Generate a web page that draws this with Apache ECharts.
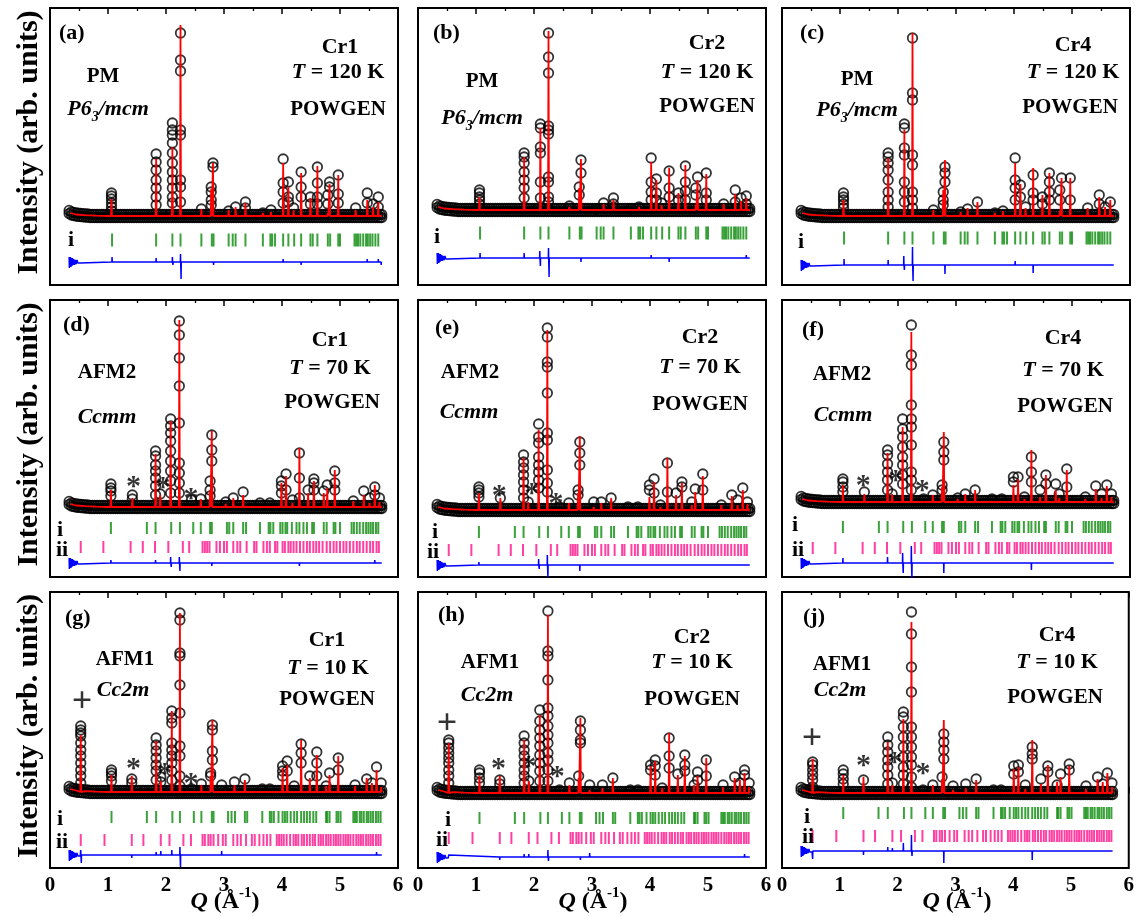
<!DOCTYPE html>
<html><head><meta charset="utf-8">
<script src="https://cdn.jsdelivr.net/npm/echarts@6/dist/echarts.min.js"></script>
<style>html,body{margin:0;padding:0;background:#fff}#c{width:1137px;height:917px}</style>
</head><body><div id="c"></div>
<script>
// ---------------- DATA (intensities in arb. units above background) ----------------
const X_TICK_LABELS = ['0','1','2','3','4','5','6'];
const PANEL_TAGS = ['(a)','(b)','(c)','(d)','(e)','(f)','(g)','(h)','(j)'];
const SAMPLES = ['Cr1','Cr2','Cr4','Cr1','Cr2','Cr4','Cr1','Cr2','Cr4'];
const TEMPS = ['120 K','120 K','120 K','70 K','70 K','70 K','10 K','10 K','10 K'];
const PHASES = ['PM','AFM2','AFM1'];
const GROUPS = ['{gi|P6}{sub|3}{gi|/mcm}','{gi|Ccmm}','{gi|Cc2m}'];
const INSTRUMENT = 'POWGEN';
const PHASE_ROWS = ['i','ii'];
const Y_TITLE = 'Intensity (arb. units)';
const X_TITLE = '{q|Q}{n| (Å}{sup|-1}{n|)}';

// background observations: Q grid, low-Q background level and the scatter of points about it
const BG_Q = [0.33,0.37,0.41,0.45,0.49,0.53,0.57,0.61,0.65,0.69,0.73,0.77,0.81,0.85,0.89,0.93,0.97,1.01,1.05,1.09,1.13,1.17,1.21,1.25,1.29,1.33,1.37,1.41,1.45,1.49,1.53,1.57,1.61,1.65,1.69,1.73,1.77,1.81,1.85,1.89,1.93,1.97,2.01,2.05,2.09,2.13,2.17,2.21,2.25,2.29,2.33,2.37,2.41,2.45,2.49,2.53,2.57,2.61,2.65,2.69,2.73,2.77,2.81,2.85,2.89,2.93,2.97,3.01,3.05,3.09,3.13,3.17,3.21,3.25,3.29,3.33,3.37,3.41,3.45,3.49,3.53,3.57,3.61,3.65,3.69,3.73,3.77,3.81,3.85,3.89,3.93,3.97,4.01,4.05,4.09,4.13,4.17,4.21,4.25,4.29,4.33,4.37,4.41,4.45,4.49,4.53,4.57,4.61,4.65,4.69,4.73,4.77,4.81,4.85,4.89,4.93,4.97,5.01,5.05,5.09,5.13,5.17,5.21,5.25,5.29,5.33,5.37,5.41,5.45,5.49,5.53,5.57,5.61,5.65,5.69,5.72];
const BG_LEVEL = [4,2.5,2,1.5,1.2,1,0.8,0.6,0.4];
const BG_SPREAD = [1.6,-1.6];
const CALC_BG = [[0.35,3],[0.45,1.5],[0.6,0.8],[0.8,0.3],[1.0,0],[5.72,0]];
const DIFF_START = [[0.33,5],[0.334,-6],[0.339,5],[0.345,-5],[0.352,5],[0.36,-5],[0.368,4],[0.377,-4],[0.387,4],[0.398,-3],[0.41,3],[0.422,-3],[0.435,2],[0.45,-2],[0.465,2],[0.48,-1],[0.50,1],[0.52,-1],[0.54,0]];

// Row 1 (PM, P6_3/mcm, 120 K)
const R1_PEAK_Q = [1.06,1.83,2.11,2.25,2.61,2.78,2.81,3.08,3.20,3.37,3.67,3.81,4.02,4.11,4.20,4.33,4.49,4.61,4.79,4.82,4.97,5.27,5.47,5.57,5.66];
const CALC_A = [17,57,69,191,7,27,53,6,9,13,3,4,53,29,6,43,18,50,3,32,41,6,16,9,14];
const CALC_B = [13,53,82,179,3,22,51,1,6,10,1,3,48,30,5,42,17,45,5,30,36,6,16,9,12];
const CALC_C = [16,58,86,183,6,26,56,4,8,14,3,5,53,32,8,48,21,43,5,38,38,8,19,9,16];
const OBS_A = [[23,20,17,13,9,5],[62,54,46,36,28,19,11],[93,86,81,73,63,53,44,36,28,19,13],[183,156,145,86,81,36,29,14],[7],[29,24,16,11],[53,49],[5],[9],[14,8],[3],[6],[57,33,24,13],[34,19,14],[8],[44,29,19],[19,12],[49,33,19,12],[21,12],[34,29],[41,22,13],[8],[23,13],[12],[19,9]];
const OBS_B = [[20,17,13,10,6],[57,53,47,38,30,22,12],[86,82,63,57,28,12],[177,153,137,84,80,76,33,28,13,8],[4],[23,15],[50,37],[1],[7],[12,6],[1],[3],[52,28,18,10],[31,17,10],[7],[39,22,13],[17,10],[44,28,19,10],[22,15],[33],[37,17,10],[6],[20,8],[12],[14,6]];
const OBS_C = [[23,19,16,12,8],[63,59,53,46,36,24,16,9],[92,88,68,61,34,24,14],[178,123,116,61,51,24,16,8],[6],[24,16,11],[49,43,34],[4],[7],[14],[3],[5],[58,36,28,16],[31,19],[9],[41,23,16],[19,12],[43,34,24,16],[26,16],[38],[38,16],[8],[21,12],[9],[14]];
const R1_TICKS_I = [1.07,1.83,2.11,2.25,2.61,2.79,2.82,3.08,3.15,3.20,3.37,3.67,3.80,3.83,3.88,4.02,4.11,4.21,4.33,4.49,4.53,4.61,4.79,4.83,4.97,5.00,5.25,5.28,5.31,5.35,5.40,5.45,5.48,5.52,5.56,5.61,5.66];
const DIFF_A = [[1.07,5],[1.83,4],[2.11,5],[2.12,-3],[2.25,8],[2.26,-17],[2.82,-3],[4.02,3],[4.33,-3],[4.82,2],[5.47,3],[5.66,3],[5.71,-3]];
const DIFF_B = [[1.07,5],[1.83,5],[2.10,7],[2.11,-8],[2.25,10],[2.26,-19],[2.81,-4],[4.02,3],[4.33,-4],[4.61,2],[4.79,2],[5.66,3]];
const DIFF_C = [[1.07,6],[1.83,5],[2.10,9],[2.11,-5],[2.25,18],[2.26,-16],[2.81,-9],[4.02,4],[4.33,-8],[4.61,2],[5.66,2]];

// Row 2 (AFM2, Ccmm, 70 K)
const R2_PEAK_Q = [1.05,1.42,1.82,1.90,2.08,2.23,2.44,2.60,2.76,2.79,3.03,3.16,3.33,3.62,3.79,3.99,4.07,4.18,4.30,4.45,4.55,4.72,4.78,4.91,5.23,5.41,5.51,5.60,5.68];
const CALC_D = [17,9,53,12,86,187,2,8,17,76,3,9,12,2,2,24,31,4,59,14,26,14,19,37,6,12,4,22,5];
const CALC_E = [17,12,52,8,80,180,2,7,17,74,3,7,12,1,1,13,28,3,52,15,27,5,18,34,5,14,5,20,6];
const CALC_F = [17,8,49,8,75,170,2,7,15,70,3,8,12,1,1,17,23,3,52,5,27,12,4,32,3,13,4,16,5];
const OBS_D = [[23,19,16,11],[12,8],[56,51,42,36,29,21,12],[13],[88,81,74,66,56,46,36,26,14],[186,172,149,121,84,44,34,24,14],[7],[8],[26,17,11],[72,57,46],[5],[9],[15],[4],[4],[26,21,14],[33,17],[7],[54,29,9],[17],[28,24,17],[16],[22],[36,24,17],[6],[16],[9],[20,12],[9]];
const OBS_E = [[23,20,17,13],[12],[55,48,42,35,28,20,12],[8],[86,73,67,53,45,38,30,22],[182,173,148,143,117,77,70,40,27,18],[3],[7],[20,15],[68,57,45],[8],[8],[12],[3],[3],[25,20],[31,17],[5],[47,18],[17],[28,23],[8],[21],[36,20],[5],[15],[10],[22],[8]];
const OBS_F = [[23,20,15,10],[10],[52,47,38,30,22,12],[8],[83,73,65,55,45,37,27,18],[177,147,137,97,83,75,57,30,22,12],[3],[7],[17,12],[60,50,42],[4],[8],[12],[3],[3],[25,20],[25],[5],[45,30,20],[12],[27,18],[18],[8],[33,15],[5],[16],[8],[17],[8]];
const R2_TICKS_I = [1.05,1.67,1.82,2.09,2.24,2.47,2.60,2.76,2.79,3.05,3.09,3.16,3.33,3.38,3.62,3.77,3.80,3.85,3.97,4.01,4.06,4.09,4.17,4.25,4.30,4.37,4.43,4.52,4.55,4.72,4.77,4.89,4.92,5.00,5.20,5.24,5.29,5.34,5.40,5.45,5.49,5.53,5.57,5.62,5.66];
const R2_TICKS_II = [0.53,0.92,1.39,1.60,1.81,2.04,2.29,2.40,2.63,2.67,2.71,2.75,2.87,2.93,3.00,3.05,3.16,3.23,3.28,3.39,3.52,3.56,3.68,3.74,3.79,3.88,3.92,4.01,4.05,4.11,4.15,4.20,4.25,4.31,4.37,4.43,4.48,4.54,4.59,4.64,4.70,4.77,4.83,4.89,4.94,5.00,5.06,5.11,5.17,5.23,5.29,5.34,5.40,5.46,5.52,5.57,5.63,5.67];
const DIFF_D = [[1.05,3],[1.82,3],[1.90,2],[2.08,6],[2.09,-4],[2.23,6],[2.24,-8],[2.79,-3],[3.99,1],[4.30,-3],[5.60,3]];
const DIFF_E = [[1.05,3],[1.90,2],[2.08,6],[2.09,-4],[2.23,10],[2.24,-12],[2.79,-6],[3.99,2],[4.07,-2],[4.30,2],[4.55,1],[5.60,-2]];
const DIFF_F = [[1.05,5],[1.82,6],[2.08,10],[2.09,-10],[2.23,17],[2.24,-15],[2.79,-10],[4.07,2],[4.30,-7]];
const STARS_D = [[1.44,26],[1.95,25],[2.43,14]];
const STARS_E = [[1.40,20],[1.96,22],[2.38,12]];
const STARS_F = [[1.40,22],[1.96,27],[2.42,17]];

// Row 3 (AFM1, Cc2m, 10 K)
const R3_PEAK_Q = [0.53,1.06,1.41,1.83,1.91,2.10,2.24,2.44,2.61,2.77,2.80,2.96,3.18,3.36,3.66,3.79,4.01,4.09,4.21,4.33,4.48,4.60,4.76,4.82,4.97,5.26,5.46,5.55,5.63,5.71];
const CALC_G = [57,17,16,51,11,81,179,2,7,16,72,2,7,12,1,1,24,27,2,52,14,37,6,17,36,6,14,9,22,5];
const CALC_H = [50,17,17,53,12,78,178,2,8,15,75,3,5,15,1,1,27,32,5,60,18,37,8,17,35,6,15,13,20,6];
const CALC_J = [34,18,16,51,8,74,171,2,8,14,73,3,5,13,1,1,24,26,4,53,9,28,11,16,27,4,14,11,20,6];
const OBS_G = [[66,62,59,56,49,42,36,29,22,16,9],[22,19,16,11],[13,9],[54,47,41,34,27,21,12],[15,10],[81,74,69,49,42,36,29,21,12],[179,172,139,136,107,79,46,36,16,6],[3],[8],[19,16],[67,62,41,32],[7],[10],[13],[3],[3],[26,21,16],[31,21],[6],[48,39,29],[16],[40,29,16],[6],[19],[34,22],[7],[13],[9],[25],[9]];
const OBS_H = [[53,50,45,40,35,30,23,17,10],[23,20,15,10],[13,9],[57,50,43,37,30,23,17,10],[12],[83,72,63,55,47,38,30,22,12],[182,142,137,113,85,77,67,58,50,40,33,23,12],[3],[10],[17],[72,63,53,50],[8],[8],[15],[3],[3],[28,23],[33,27,18],[5],[55,37,25],[19],[38,28,22],[8],[21,13],[33,17],[8],[16],[10],[23,18],[10]];
const OBS_J = [[31,28,23,18,13,6],[23,19,14,9],[13],[56,48,41,33,26,18,9],[10],[81,76,66,56,46,36,26,18,9],[181,159,126,101,66,56,46,36,28,16,6],[3],[8],[16],[59,51,43,34],[7],[9],[14],[3],[3],[27,19],[28,21],[8],[46,39,34],[14],[27,21],[8],[19],[29,23],[7],[16],[9],[20],[10]];
const R3_TICKS_I = [1.06,1.67,1.83,2.11,2.24,2.48,2.61,2.79,2.82,3.07,3.13,3.19,3.36,3.40,3.66,3.79,3.82,3.86,3.94,4.01,4.05,4.09,4.15,4.21,4.26,4.33,4.38,4.43,4.48,4.54,4.59,4.76,4.78,4.82,4.94,4.97,5.01,5.23,5.26,5.29,5.34,5.37,5.41,5.46,5.49,5.53,5.57,5.62,5.66,5.70];
const R3_TICKS_II = [0.53,0.94,1.41,1.61,1.91,2.06,2.30,2.43,2.63,2.67,2.73,2.77,2.82,2.90,2.98,3.03,3.16,3.23,3.29,3.38,3.48,3.53,3.61,3.68,3.74,3.80,3.91,3.95,3.99,4.03,4.08,4.14,4.20,4.24,4.28,4.34,4.38,4.43,4.48,4.53,4.57,4.63,4.67,4.71,4.76,4.80,4.84,4.89,4.93,4.97,5.01,5.06,5.10,5.14,5.18,5.23,5.28,5.32,5.36,5.40,5.45,5.49,5.53,5.57,5.62,5.66,5.70];
const DIFF_G = [[0.53,5],[0.54,-8],[1.41,-3],[1.83,3],[1.91,4],[2.10,5],[2.24,8],[2.25,-12],[2.80,2],[2.96,4],[4.82,2],[5.63,3],[5.64,-2]];
const DIFF_H = [[0.53,2],[1.41,-3],[1.83,3],[1.91,3],[2.06,2],[2.24,7],[2.25,-4],[2.40,2],[2.80,-3],[2.96,4],[4.82,2],[5.63,3]];
const DIFF_J = [[0.53,-8],[1.06,2],[1.41,-4],[1.83,4],[1.91,3],[2.10,8],[2.24,16],[2.25,-5],[2.80,-12],[4.33,-9],[5.63,2]];
const STARS_G = [[1.44,29],[1.98,24],[2.43,14]];
const STARS_H = [[1.39,30],[1.91,32],[2.40,22]];
const STARS_J = [[1.41,33],[1.95,36],[2.44,25]];
const PLUS_G = [[0.55,87]];
const PLUS_H = [[0.50,66]];
const PLUS_J = [[0.52,51]];

// ---------------- LAYOUT (pixels) ----------------
const FONT = '"Liberation Serif","Times New Roman",Times,serif';
const COL_LEFT = [50, 418, 782];
const ROW_TOP = [8, 300, 592];
const ROW_H = [277, 277, 276];
const PANEL_W = 348;
const PANELS = [
 {col:0,row:0,base:216,iY:-24,iiY:null,dY:-46,q:R1_PEAK_Q,calc:CALC_A,obs:OBS_A,tI:R1_TICKS_I,tII:null,diff:DIFF_A,stars:[],plus:[],
  t:{lab:[59,33],s:[340,47],t:[338,72],p:[338,110],ph:[103,77],g:[108,109],i:[71,240],ii:null}},
 {col:1,row:0,base:210,iY:-23,iiY:null,dY:-48,q:R1_PEAK_Q,calc:CALC_B,obs:OBS_B,tI:R1_TICKS_I,tII:null,diff:DIFF_B,stars:[],plus:[],
  t:{lab:[433,33],s:[707,43],t:[707,72],p:[707,107],ph:[482,82],g:[482,118],i:[437,237],ii:null}},
 {col:2,row:0,base:216,iY:-22,iiY:null,dY:-49,q:R1_PEAK_Q,calc:CALC_C,obs:OBS_C,tI:R1_TICKS_I,tII:null,diff:DIFF_C,stars:[],plus:[],
  t:{lab:[800,33],s:[1073,45],t:[1073,72],p:[1070,108],ph:[857,80],g:[857,110],i:[801,242],ii:null}},
 {col:0,row:1,base:507,iY:-21,iiY:-40,dY:-56,q:R2_PEAK_Q,calc:CALC_D,obs:OBS_D,tI:R2_TICKS_I,tII:R2_TICKS_II,diff:DIFF_D,stars:STARS_D,plus:[],
  t:{lab:[63,325],s:[330,340],t:[330,368],p:[332,403],ph:[107,373],g:[107,417],i:[60,530],ii:[62,550]}},
 {col:1,row:1,base:510,iY:-22,iiY:-40,dY:-55,q:R2_PEAK_Q,calc:CALC_E,obs:OBS_E,tI:R2_TICKS_I,tII:R2_TICKS_II,diff:DIFF_E,stars:STARS_E,plus:[],
  t:{lab:[435,328],s:[700,337],t:[700,367],p:[700,405],ph:[470,373],g:[469,412],i:[435,532],ii:[433,552]}},
 {col:2,row:1,base:502,iY:-25,iiY:-46,dY:-61,q:R2_PEAK_Q,calc:CALC_F,obs:OBS_F,tI:R2_TICKS_I,tII:R2_TICKS_II,diff:DIFF_F,stars:STARS_F,plus:[],
  t:{lab:[802,330],s:[1063,338],t:[1063,370],p:[1065,407],ph:[842,375],g:[843,415],i:[795,525],ii:[798,550]}},
 {col:0,row:2,base:792,iY:-25,iiY:-48,dY:-63,q:R3_PEAK_Q,calc:CALC_G,obs:OBS_G,tI:R3_TICKS_I,tII:R3_TICKS_II,diff:DIFF_G,stars:STARS_G,plus:PLUS_G,
  t:{lab:[65,618],s:[327,640],t:[328,668],p:[327,700],ph:[125,660],g:[123,690],i:[60,819],ii:[62,842]}},
 {col:1,row:2,base:793,iY:-25,iiY:-45,dY:-64,q:R3_PEAK_Q,calc:CALC_H,obs:OBS_H,tI:R3_TICKS_I,tII:R3_TICKS_II,diff:DIFF_H,stars:STARS_H,plus:PLUS_H,
  t:{lab:[438,615],s:[692,637],t:[692,662],p:[692,700],ph:[490,663],g:[487,695],i:[448,820],ii:[442,840]}},
 {col:2,row:2,base:793,iY:-20,iiY:-43,dY:-58,q:R3_PEAK_Q,calc:CALC_J,obs:OBS_J,tI:R3_TICKS_I,tII:R3_TICKS_II,diff:DIFF_J,stars:STARS_J,plus:PLUS_J,
  t:{lab:[803,617],s:[1057,635],t:[1057,662],p:[1055,698],ph:[842,665],g:[840,690],i:[807,817],ii:[808,837]}}
];

const RICH = {
  gi:{fontFamily:FONT,fontSize:22,fontWeight:'bold',fontStyle:'italic',lineHeight:30,verticalAlign:'middle'},
  sub:{fontFamily:FONT,fontSize:14,fontWeight:'bold',fontStyle:'italic',verticalAlign:'bottom'},
  ti:{fontFamily:FONT,fontSize:22,fontWeight:'bold',fontStyle:'italic',lineHeight:30,verticalAlign:'middle'},
  tn:{fontFamily:FONT,fontSize:22,fontWeight:'bold',lineHeight:30,verticalAlign:'middle'},
  q:{fontFamily:FONT,fontSize:24,fontWeight:'bold',fontStyle:'italic',lineHeight:32,verticalAlign:'middle'},
  n:{fontFamily:FONT,fontSize:24,fontWeight:'bold',lineHeight:32,verticalAlign:'middle'},
  sup:{fontFamily:FONT,fontSize:15,fontWeight:'bold',verticalAlign:'top'}
};

function txt(x, y, text, size, align, rich) {
  const st = {text, fontFamily:FONT, fontSize:size, fontWeight:'bold', fill:'#000',
    textAlign:align||'center', verticalAlign:'middle', textVerticalAlign:'middle'};
  if (rich) st.rich = RICH;
  return {type:'text', x, y, z:100, style:st};
}

const option = {animation:false, backgroundColor:'#fff', grid:[], xAxis:[], yAxis:[], series:[], graphic:[]};

PANELS.forEach((p, k) => {
  const left = COL_LEFT[p.col], top = ROW_TOP[p.row], h = ROW_H[p.row];
  option.grid.push({left, top, width:PANEL_W, height:h, show:true, borderColor:'#000', borderWidth:2, backgroundColor:'rgba(0,0,0,0)'});
  const tick = {show:true, inside:true, length:6, lineStyle:{color:'#000', width:1.5}};
  const minor = {show:true, splitNumber:2, length:3, lineStyle:{color:'#000', width:1.3}};
  const base = {type:'value', gridIndex:k, min:0, max:6, interval:1, axisLine:{show:false}, axisTick:tick,
    minorTick:minor, splitLine:{show:false}, minorSplitLine:{show:false}};
  option.xAxis.push(Object.assign({}, base, {position:'bottom',
    axisLabel:{show:p.row===2, showMinLabel:true, showMaxLabel:true, fontFamily:FONT, fontSize:21, fontWeight:'bold', color:'#000', margin:7,
      formatter: v => X_TICK_LABELS[Math.round(v)]}}));
  option.xAxis.push(Object.assign({}, base, {position:'top', axisLabel:{show:false}}));
  option.yAxis.push({type:'value', gridIndex:k, min:p.base-(top+h), max:p.base-top, show:false});
  const xi = 2*k, yi = k;

  // observed: background band + peak points
  const obs = [];
  BG_SPREAD.forEach(s => BG_Q.forEach((q,i) => obs.push([q, (BG_LEVEL[i] !== undefined ? BG_LEVEL[i] : 0) + s])));
  p.q.forEach((q,i) => p.obs[i].forEach(v => obs.push([q, v])));
  option.series.push({type:'scatter', xAxisIndex:xi, yAxisIndex:yi, data:obs, symbol:'circle', symbolSize:9.5, z:3,
    itemStyle:{color:'rgba(0,0,0,0)', borderColor:'#000', borderWidth:1.8}, silent:true});
  // calculated
  const calc = CALC_BG.slice();
  p.q.forEach((q,i) => { calc.push([q-0.008,0],[q,p.calc[i]],[q+0.008,0]); });
  calc.sort((a,b)=>a[0]-b[0]);
  option.series.push({type:'line', xAxisIndex:xi, yAxisIndex:yi, data:calc, showSymbol:false, symbol:'none', z:4,
    lineStyle:{color:'#ff0000', width:1.8}, silent:true});
  // Bragg ticks
  option.series.push({type:'scatter', xAxisIndex:xi, yAxisIndex:yi, data:p.tI.map(q=>[q,p.iY]), symbol:'rect',
    symbolSize:[2, p.row===0?13:12], itemStyle:{color:'#0a8a0a'}, z:3, silent:true});
  if (p.tII) option.series.push({type:'scatter', xAxisIndex:xi, yAxisIndex:yi, data:p.tII.map(q=>[q,p.iiY]), symbol:'rect',
    symbolSize:[2,12], itemStyle:{color:'#ff0f8a'}, z:3, silent:true});
  // difference
  const d = DIFF_START.map(([q,v]) => [q, p.dY+v]);
  p.diff.forEach(([q,v]) => { d.push([q-0.003,p.dY],[q,p.dY+v],[q+0.003,p.dY]); });
  d.push([5.72, p.dY]);
  d.sort((a,b)=>a[0]-b[0]);
  option.series.push({type:'line', xAxisIndex:xi, yAxisIndex:yi, data:d, showSymbol:false, symbol:'none', z:3,
    lineStyle:{color:'#0000ff', width:1.5}, silent:true});
  // impurity markers
  if (p.stars.length) option.series.push({type:'scatter', xAxisIndex:xi, yAxisIndex:yi, data:p.stars, symbol:'circle', symbolSize:1,
    itemStyle:{color:'rgba(0,0,0,0)'}, z:2, silent:true,
    label:{show:true, position:'inside', formatter:'*', fontFamily:FONT, fontSize:30, fontWeight:'bold', color:'#000', offset:[0,6]}});
  if (p.plus.length) option.series.push({type:'scatter', xAxisIndex:xi, yAxisIndex:yi, data:p.plus, symbol:'circle', symbolSize:1,
    itemStyle:{color:'rgba(0,0,0,0)'}, z:2, silent:true,
    label:{show:true, position:'inside', formatter:'+', fontFamily:FONT, fontSize:36, fontWeight:'bold', color:'#000', offset:[0,-2]}});

  // texts
  const t = p.t;
  option.graphic.push(txt(t.lab[0], t.lab[1], PANEL_TAGS[k], 22, 'left'));
  option.graphic.push(txt(t.s[0], t.s[1], SAMPLES[k], 22));
  option.graphic.push(txt(t.t[0], t.t[1], '{ti|T}{tn| = ' + TEMPS[k] + '}', 22, 'center', true));
  option.graphic.push(txt(t.p[0], t.p[1], INSTRUMENT, 21));
  option.graphic.push(txt(t.ph[0], t.ph[1], PHASES[p.row], 21));
  option.graphic.push(txt(t.g[0], t.g[1], GROUPS[p.row], 22, 'center', true));
  option.graphic.push(txt(t.i[0], t.i[1], PHASE_ROWS[0], 22));
  if (t.ii) option.graphic.push(txt(t.ii[0], t.ii[1], PHASE_ROWS[1], 22));
});

// axis titles
ROW_TOP.forEach((top, r) => {
  const g = txt(29, top + ROW_H[r]/2 - 4, Y_TITLE, 30);
  g.rotation = Math.PI/2;
  option.graphic.push(g);
});
COL_LEFT.forEach(left => option.graphic.push(txt(left + PANEL_W/2 + 1, 902, X_TITLE, 24, 'center', true)));

const chart = echarts.init(document.getElementById('c'), null, {renderer:'canvas'});
chart.setOption(option);
</script></body></html>
